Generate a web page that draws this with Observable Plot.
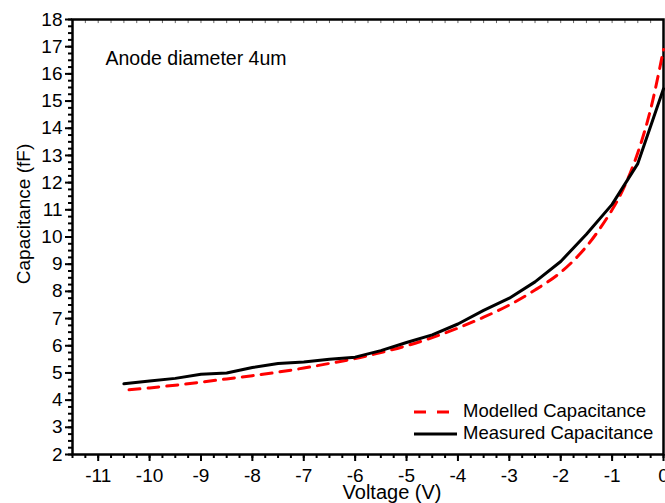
<!DOCTYPE html>
<html>
<head>
<meta charset="utf-8">
<script src="https://cdn.jsdelivr.net/npm/d3@7"></script>
<script src="https://cdn.jsdelivr.net/npm/@observablehq/plot@0.6"></script>
<style>
  html, body { margin: 0; padding: 0; background: #fff; }
  #wrap { position: relative; width: 665px; height: 503px; overflow: hidden; font-family: "Liberation Sans", Arial, Helvetica, sans-serif; }
  #legend { position: absolute; left: 413px; top: 400px; font-size: 18.5px; line-height: 22px; color: #000; }
  #legend .row { display: flex; align-items: center; height: 22px; white-space: nowrap; }
  #legend svg { display: block; }
</style>
</head>
<body>
<div id="wrap"></div>
<script>
// Measured capacitance (black solid)
const measuredVolts = [-10.5, -10, -9.5, -9, -8.5, -8, -7.5, -7, -6.5, -6, -5.5, -5, -4.5, -4, -3.5, -3, -2.5, -2, -1.5, -1, -0.5, 0];
const measuredCap   = [4.6, 4.7, 4.8, 4.95, 5.0, 5.2, 5.35, 5.4, 5.5, 5.58, 5.82, 6.12, 6.4, 6.8, 7.3, 7.75, 8.35, 9.1, 10.1, 11.2, 12.7, 15.45];

// Modelled capacitance (red dashed)
const modelVolts = [-10.4, -10, -9.5, -9, -8.5, -8, -7.5, -7, -6.5, -6, -5.5, -5, -4.5, -4, -3.5, -3, -2.5, -2, -1.5, -1, -0.75, -0.5, -0.25, 0];
const modelCap   = [4.38, 4.45, 4.55, 4.66, 4.78, 4.9, 5.03, 5.18, 5.35, 5.53, 5.75, 6.0, 6.3, 6.65, 7.05, 7.5, 8.05, 8.7, 9.65, 11.0, 11.9, 13.1, 14.7, 16.9];

const xTickLabels = [-11, -10, -9, -8, -7, -6, -5, -4, -3, -2, -1, 0];
const yTickLabels = [2, 3, 4, 5, 6, 7, 8, 9, 10, 11, 12, 13, 14, 15, 16, 17, 18];
const xMinor = d3.range(-11.5, 0.001, 0.25);
const yMinor = d3.range(2, 18.001, 0.25);

const annotation = "Anode diameter 4um";
const xLabel = "Voltage (V)";
const yLabel = "Capacitance (fF)";
const seriesNames = ["Modelled Capacitance", "Measured Capacitance"];

const measured = measuredVolts.map((v, i) => ({v, c: measuredCap[i]}));
const modelled = modelVolts.map((v, i) => ({v, c: modelCap[i]}));

const chart = Plot.plot({
  width: 665,
  height: 503,
  marginLeft: 72,
  marginRight: 2,
  marginTop: 19,
  marginBottom: 49,
  x: {domain: [-11.5, 0]},
  y: {domain: [2, 18]},
  style: {fontFamily: "'Liberation Sans', Arial, Helvetica, sans-serif", fontSize: "19px", color: "#000", background: "#fff"},
  marks: [
    Plot.axisY({ticks: yMinor, tickSize: 4, tickFormat: () => "", label: null, strokeWidth: 2}),
    Plot.axisY({ticks: yTickLabels, tickSize: 7, tickPadding: 3, tickFormat: d => String(d), label: null, strokeWidth: 2}),
    Plot.axisX({ticks: xMinor, tickSize: 4, tickFormat: () => "", label: null, strokeWidth: 2}),
    Plot.axisX({ticks: xTickLabels, tickSize: 7, tickPadding: 7, tickFormat: d => String(d), label: null, strokeWidth: 2}),
    Plot.ruleX(xMinor, {x: d => d, y1: 18, y2: 17.85, stroke: "#666", strokeWidth: 1}),
    Plot.frame({stroke: "#000", strokeWidth: 2.5}),
    Plot.line(modelled, {x: "v", y: "c", stroke: "#ff0000", strokeWidth: 3, strokeDasharray: "11,8", curve: "catmull-rom"}),
    Plot.line(measured, {x: "v", y: "c", stroke: "#000", strokeWidth: 3, curve: "linear"}),
    Plot.text([annotation], {frameAnchor: "top-left", dx: 33, dy: 32, textAnchor: "start", fontSize: 19.5}),
    Plot.text([xLabel], {frameAnchor: "bottom", dx: 24, dy: 44, fontSize: 20}),
    Plot.text([yLabel], {frameAnchor: "left", dx: -49, dy: -23, rotate: -90, textAnchor: "middle", fontSize: 19})
  ]
});

const wrap = document.getElementById("wrap");
wrap.appendChild(chart);

const legend = document.createElement("div");
legend.id = "legend";
legend.innerHTML = `
  <div class="row"><svg width="50" height="22"><line x1="1" y1="12" x2="36" y2="12" stroke="#ff0000" stroke-width="3" stroke-dasharray="12,11"/></svg><span>${seriesNames[0]}</span></div>
  <div class="row"><svg width="50" height="22"><line x1="1" y1="12" x2="44" y2="12" stroke="#000" stroke-width="3"/></svg><span>${seriesNames[1]}</span></div>`;
wrap.appendChild(legend);
</script>
</body>
</html>
